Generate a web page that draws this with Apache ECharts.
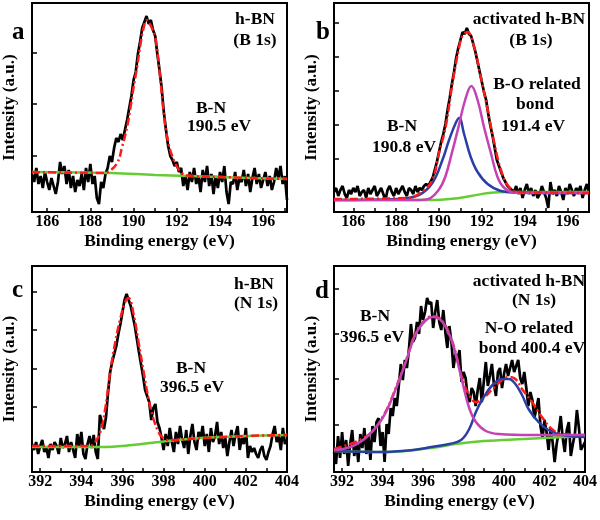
<!DOCTYPE html>
<html>
<head>
<meta charset="utf-8">
<script src="https://cdn.jsdelivr.net/npm/echarts@6/dist/echarts.min.js"></script>
<style>
  html, body { margin: 0; padding: 0; background: #fff; }
  #chart { width: 600px; height: 520px; }
</style>
</head>
<body>
<div id="chart"></div>
<script>
// raw spectra, sampled every 0.1 eV from the start energy
var step = 0.1;
var aStart = 185.3, bStart = 185.1, cStart = 391.6, dStart = 391.6;

var aRaw = [
  38,30,44,28,36,24,40,30,22,34,26,18,30,50,38,46,28,42,24,36,20,32,26,38,22,44,30,48,28,36,14,8,30,24,38,
  44,56,50,64,74,70,78,72,82,92,104,116,132,140,158,170,184,190,196,188,192,182,176,158,142,124,100,82,66,56,52,46,50,40,44,
  26,36,22,40,30,44,28,36,20,42,30,46,26,38,18,36,24,40,30,46,20,8,30,28,40,22,34,30,42,26,
  38,20,34,44,28,38,24,32,40,26,36,22,30,44,34,46,28,36,12
];
var bRaw = [
  20,24,16,22,26,18,14,22,18,24,20,26,16,20,22,14,24,18,22,26,16,20,24,18,12,22,26,20,16,24,
  18,22,26,20,16,24,22,18,26,20,24,22,26,28,
  26,30,34,42,50,60,70,78,88,102,114,128,140,154,164,172,180,178,184,178,
  176,168,160,150,140,130,120,112,98,86,76,64,52,46,40,34,30,26,24,22,
  20,26,18,24,14,22,28,18,24,16,22,14,18,26,20,14,4,30,18,22,16,26,20,12,24,18,28,22,16,24,
  20,26,14,22,28,18
];
var cRaw = [
  28,22,30,18,26,32,20,24,14,28,22,30,26,18,34,24,28,36,20,30,22,14,38,26,40,18,13,28,36,24,37,20,13,
  57,50,43,55,80,100,110,118,126,138,148,160,172,178,172,166,156,146,133,120,108,96,82,76,70,52,64,68,50,44,34,22,
  38,26,44,30,20,40,28,46,32,24,42,18,36,48,30,22,40,34,46,26,38,20,44,30,36,50,28,40,24,34,
  16,30,42,26,38,46,22,34,28,44,14,26,20,24,18,14,22,26,16,12,20,26,38,46,30,36,22,44,28,32
];
var dRaw = [
  20,8,36,14,40,18,32,6,28,42,16,30,10,38,24,44,18,36,12,46,
  30,50,54,26,40,10,48,38,64,56,74,66,86,108,92,112,104,122,148,130,
  134,150,138,166,152,160,174,168,170,144,160,172,150,142,162,140,124,146,130,104,
  118,112,122,90,100,94,76,70,84,80,66,82,94,70,90,110,86,96,108,88,
  76,100,104,84,98,108,96,104,112,100,106,112,94,88,100,84,66,80,72,54,
  64,74,46,34,52,40,22,44,30,10,28,40,56,34,20,42,50,16,28,38,
  62,44,22,26,30
];

// fitted curves [eV, intensity]
var aFit = [[185.3,40],[186.5,39.5],[188.6,39],[188.82,40],[189.24,49],[189.47,65],[189.7,85],[189.84,102],[189.98,122],
  [190.16,145],[190.3,165],[190.44,182],[190.62,192],[190.8,186],[191.0,175],[191.23,135],[191.38,102],[191.61,69],
  [191.92,49],[192.23,39],[192.5,36.5],[194,35],[197.1,33]];
var aBase = [[185.3,40],[189,39],[191,37],[194,35],[197.1,33]];

var bFit = [[185.1,13],[188.5,14],[189.2,20],[189.69,32],[190.0,59],[190.31,85],[190.63,129],[190.94,165],[191.09,176],
  [191.33,180],[191.64,165],[191.95,135],[192.27,102],[192.58,69],[192.89,42],[193.2,27],[193.67,20],[195,19.5],[197.0,19]];
var bBN = [[185.1,12],[188.13,13],[189.06,17],[189.69,29],[190.16,52],[190.47,72],[190.78,89],[190.94,94],[191.17,78],
  [191.48,55],[191.8,40],[192.27,28],[192.89,21],[193.6,19.5],[197.0,19]];
var bBO = [[185.1,12],[189.0,12],[189.5,13],[189.98,22],[190.29,35],[190.6,59],[190.91,85],[191.22,112],[191.51,126],
  [191.8,112],[192.1,85],[192.42,59],[192.73,35],[193.05,24],[193.5,19.5],[194,19],[197.0,19]];
var bBase = [[185.1,12],[189.7,12],[190.5,13],[191.5,16],[192.3,19],[193.2,20],[197.0,20]];

var cFit = [[391.6,26],[394.3,26],[394.59,28],[394.92,40],[395.16,63],[395.4,100],[395.65,130],[395.89,153],[396.13,170],
  [396.3,174],[396.54,158],[396.78,130],[397.03,100],[397.27,73],[397.51,53],[397.75,40],[397.92,35],[398.24,32],
  [400,34],[402,36],[404,37]];
var cBase = [[391.6,25],[395.0,25],[396.5,27],[397.8,30],[399.8,34],[404.0,37]];

var dFit = [[391.6,23],[393.22,36],[394.03,56],[394.69,86],[395.18,113],[395.66,140],[396.15,153],[396.47,156],[396.96,151],
  [397.45,130],[397.96,92],[398.28,77],[398.61,70],[398.94,73],[399.43,83],[399.91,92],[400.24,95],[400.56,93],
  [400.89,83],[401.38,70],[401.87,55],[402.36,43],[402.85,38],[404.0,37]];
var dBN = [[391.6,22],[392.4,25],[393.22,35],[394.03,55],[394.69,85],[395.18,112],[395.66,139],[396.15,152],[396.47,155],
  [396.96,150],[397.45,129],[397.94,90],[398.28,64],[398.61,50],[399.1,41],[399.75,38],[401.36,37],[404.0,37]];
var dNO = [[391.6,21],[393.9,20],[395.5,22],[396.41,25],[397.3,28],[397.88,32],[398.28,43],[398.61,60],[398.94,73],
  [399.43,87],[399.91,93],[400.24,93],[400.56,88],[400.89,77],[401.21,63],[401.7,50],[402.19,42],[402.85,37],[404.0,35]];
var dBase = [[391.6,21],[394,20],[396.4,24],[397.6,28],[399,31],[401,33],[404,36]];

// axis ticks
var xTicksB = [186,187,188,189,190,191,192,193,194,195,196,197];
var xLabelsB = [186,188,190,192,194,196];
var xTicksN = [392,393,394,395,396,397,398,399,400,401,402,403,404];
var xLabelsN = [392,394,396,398,400,402,404];
var yTicksA = [56,108,159];
var yTicksB = [53,87,121,155,189];
var yTicksC = [65,103,142,180];
var yTicksD = [47,93,138,183];

var FONT = 'Liberation Serif';
var BLACK = '#000', RED = '#ff1a1a', GREEN = '#66cc33', BLUE = '#2a3fa6', MAGENTA = '#c442b4';

function toPairs(raw, start) {
  return raw.map(function (v, i) { return [+(start + i * step).toFixed(2), v]; });
}

var grids = [
  { left: 32, top: 3, width: 255, height: 209 },
  { left: 334, top: 3, width: 255, height: 209 },
  { left: 32, top: 266, width: 255, height: 206 },
  { left: 334, top: 266, width: 255, height: 206 }
].map(function (g) {
  return Object.assign({ show: true, borderColor: '#000', borderWidth: 2, backgroundColor: '#fff' }, g);
});

function xAx(i, min, max, ticks, labels) {
  return {
    type: 'value', gridIndex: i, min: min, max: max,
    name: 'Binding energy (eV)', nameLocation: 'middle', nameGap: 20,
    nameTextStyle: { fontFamily: FONT, fontWeight: 'bold', fontSize: 17.5, color: '#000' },
    axisLine: { show: false },
    axisTick: { show: true, inside: true, length: 4, customValues: ticks, lineStyle: { color: '#000', width: 1.5 } },
    axisLabel: { customValues: labels, margin: 2, fontFamily: FONT, fontWeight: 'bold', fontSize: 16, color: '#000' },
    splitLine: { show: false }
  };
}
function yAx(i, max, ticks) {
  return {
    type: 'value', gridIndex: i, min: 0, max: max,
    name: 'Intensity (a.u.)', nameLocation: 'middle', nameGap: 14,
    nameTextStyle: { fontFamily: FONT, fontWeight: 'bold', fontSize: 17, color: '#000' },
    axisLine: { show: false },
    axisTick: { show: true, inside: true, length: 5, customValues: ticks, lineStyle: { color: '#000', width: 1.5 } },
    axisLabel: { show: false },
    splitLine: { show: false }
  };
}

function raw(i, data) {
  return { type: 'line', xAxisIndex: i, yAxisIndex: i, data: data, showSymbol: false, symbol: 'none',
    lineStyle: { color: BLACK, width: 2.7 }, z: 2 };
}
function curve(i, data, color, dashed) {
  return { type: 'line', xAxisIndex: i, yAxisIndex: i, data: data, showSymbol: false, symbol: 'none', smooth: 0.4,
    lineStyle: { color: color, width: 2.5, type: dashed ? [8, 3, 2, 3] : 'solid' }, z: 3 };
}

function txt(x, y, s) {
  return { type: 'text', x: x, y: y, z: 100,
    style: { text: s, fill: '#000', font: 'bold 17.5px "' + FONT + '"', textAlign: 'center', textVerticalAlign: 'middle' } };
}
function letter(x, y, s) {
  return { type: 'text', x: x, y: y, z: 100,
    style: { text: s, fill: '#000', font: 'bold 25px "' + FONT + '"', textAlign: 'left', textVerticalAlign: 'alphabetic' } };
}

var chart = echarts.init(document.getElementById('chart'), null, { renderer: 'canvas' });
chart.setOption({
  backgroundColor: '#fff',
  animation: false,
  grid: grids,
  xAxis: [
    xAx(0, 185.3, 197.1, xTicksB, xLabelsB),
    xAx(1, 185.1, 197.0, xTicksB, xLabelsB),
    xAx(2, 391.6, 404.0, xTicksN, xLabelsN),
    xAx(3, 391.6, 404.0, xTicksN, xLabelsN)
  ],
  yAxis: [yAx(0, 209, yTicksA), yAx(1, 209, yTicksB), yAx(2, 206, yTicksC), yAx(3, 206, yTicksD)],
  series: [
    raw(0, toPairs(aRaw, aStart)),
    curve(0, aBase, GREEN, false),
    curve(0, aFit, RED, true),

    raw(1, toPairs(bRaw, bStart)),
    curve(1, bBase, GREEN, false),
    curve(1, bBN, BLUE, false),
    curve(1, bBO, MAGENTA, false),
    curve(1, bFit, RED, true),

    raw(2, toPairs(cRaw, cStart)),
    curve(2, cBase, GREEN, false),
    curve(2, cFit, RED, true),

    raw(3, toPairs(dRaw, dStart)),
    curve(3, dFit, RED, true),
    curve(3, dBase, GREEN, false),
    curve(3, dNO, BLUE, false),
    curve(3, dBN, MAGENTA, false)
  ],
  graphic: [
    letter(12, 20, 'a'), letter(316, 20, 'b'), letter(12, 278, 'c'), letter(315, 279, 'd'),

    txt(255, 19, 'h-BN'), txt(255, 40, '(B 1s)'),
    txt(211, 108, 'B-N'), txt(219, 126, '190.5 eV'),

    txt(529, 19, 'activated h-BN'), txt(531, 40, '(B 1s)'),
    txt(537, 84, 'B-O related'), txt(535, 104, 'bond'), txt(533, 126, '191.4 eV'),
    txt(402, 126, 'B-N'), txt(404, 147, '190.8 eV'),

    txt(254, 284, 'h-BN'), txt(256, 303, '(N 1s)'),
    txt(191, 368, 'B-N'), txt(192, 387, '396.5 eV'),

    txt(529, 281, 'activated h-BN'), txt(534, 300, '(N 1s)'),
    txt(529, 328, 'N-O related'), txt(532, 348, 'bond 400.4 eV'),
    txt(375, 316, 'B-N'), txt(372, 337, '396.5 eV')
  ]
});
</script>
</body>
</html>
